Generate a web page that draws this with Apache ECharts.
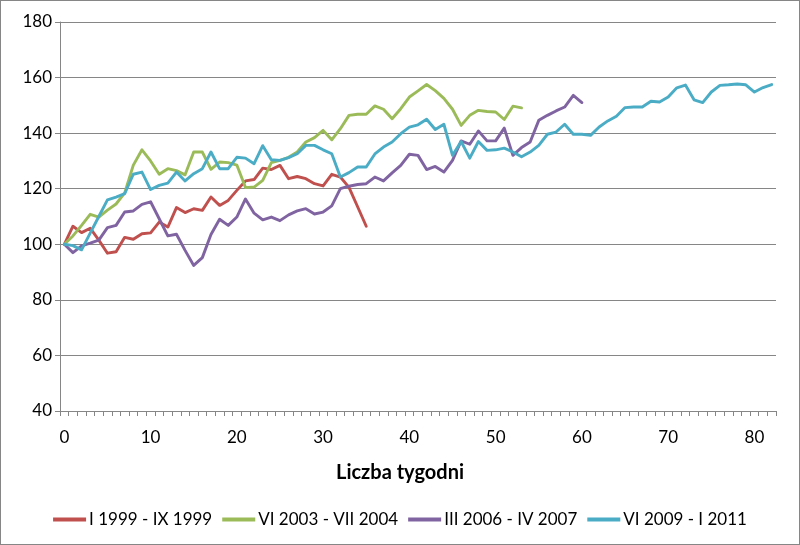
<!DOCTYPE html>
<html>
<head>
<meta charset="utf-8">
<script src="https://cdn.jsdelivr.net/npm/echarts@6/dist/echarts.min.js"></script>
<style>
html,body{margin:0;padding:0;background:#fff;}
#c{width:800px;height:545px;box-sizing:border-box;border:1px solid #868686;}
</style>
</head>
<body>
<div id="c"></div>
<script>
const weeks = Array.from({length: 83}, (_, i) => String(i));
const seriesNames = ['I 1999 - IX 1999', 'VI 2003 - VII 2004', 'III 2006 - IV 2007', 'VI 2009 - I 2011'];
const red = [100, 106.5, 104.2, 105.8, 101.5, 96.8, 97.3, 102.5, 101.8, 103.8, 104.1, 108, 106.2, 113.2, 111.4, 112.8, 112.2, 117, 114, 115.8, 119.4, 122.8, 123.3, 127.4, 126.9, 128.4, 123.6, 124.4, 123.6, 121.8, 121, 125.2, 124.2, 120.5, 113.5, 106.5];
const green = [100, 103, 106.8, 110.8, 109.8, 112.3, 114.5, 118.5, 128.5, 134, 130, 125.2, 127.2, 126.5, 125, 133.2, 133.2, 127, 129.6, 129.4, 128.5, 120.4, 120.6, 123, 129.4, 130.2, 131.3, 133.2, 136.8, 138.4, 141, 137.6, 141.6, 146.4, 146.8, 146.8, 149.8, 148.6, 145.2, 148.8, 153, 155.2, 157.5, 155.3, 152.5, 148.6, 142.8, 146.4, 148.2, 147.8, 147.6, 144.9, 149.7, 149.1];
const purple = [100, 97, 99.4, 100.4, 101.5, 106, 106.8, 111.6, 112, 114.4, 115.3, 109.2, 103, 103.6, 97.8, 92.4, 95.2, 103.5, 109, 106.8, 109.8, 116.3, 111.2, 108.8, 109.8, 108.5, 110.6, 112, 112.8, 110.9, 111.6, 113.8, 120, 120.9, 121.5, 121.8, 124.2, 122.8, 125.7, 128.4, 132.4, 132, 126.9, 128, 126, 130.2, 137.2, 136, 140.8, 137.2, 137.2, 141.8, 132, 134.8, 136.8, 144.6, 146.4, 148, 149.4, 153.6, 151];
const cyan = [100, 99.5, 98, 104, 110, 116, 117, 118.2, 125.2, 126, 119.7, 121.2, 122, 126, 122.8, 125.4, 127.2, 133.2, 127.2, 127.2, 131.3, 131, 129, 135.5, 130.4, 130.2, 131.2, 132.6, 135.6, 135.6, 134, 132.6, 124.2, 125.8, 127.8, 127.8, 132.5, 135, 136.8, 139.8, 142.2, 143, 145, 141.3, 143.2, 132, 137, 131, 137, 133.8, 134, 134.6, 133.2, 131.5, 133.2, 135.6, 139.6, 140.4, 143.2, 139.6, 139.6, 139.2, 142.2, 144.4, 146.1, 149.2, 149.4, 149.4, 151.5, 151.2, 153, 156.3, 157.3, 152, 151, 154.8, 157.2, 157.4, 157.7, 157.4, 154.8, 156.4, 157.5];
const colors = ['#C0504D', '#9BBB59', '#8064A2', '#4BACC6'];
const values = [red, green, purple, cyan];
const axisTitle = 'Liczba tygodni';

const font = 'Lato, "Open Sans", sans-serif';
const chart = echarts.init(document.getElementById('c'), null, {renderer: 'canvas'});
chart.setOption({
  animation: false,
  backgroundColor: '#fff',
  color: colors,
  title: {
    text: axisTitle, left: 'center', top: 462, padding: 0,
    textStyle: {fontFamily: font, fontSize: 20, fontWeight: 'bold', color: '#000'}
  },
  grid: {left: 59, right: 23, top: 21, bottom: 133, containLabel: false},
  legend: {
    top: 505, left: 'center',
    icon: 'rect', itemWidth: 33, itemHeight: 4, itemGap: 10,
    textStyle: {fontFamily: font, fontSize: 17, color: '#000', padding: [0, 0, 0, -2]},
    data: seriesNames
  },
  xAxis: {
    type: 'category', data: weeks, boundaryGap: true,
    axisLine: {lineStyle: {color: '#868686', width: 1}},
    axisTick: {show: true, interval: 0, length: 5, inside: false, lineStyle: {color: '#868686'}},
    axisLabel: {interval: 9, margin: 18, fontFamily: font, fontSize: 17, color: '#000'},
    splitLine: {show: false}
  },
  yAxis: {
    type: 'value', min: 40, max: 180, interval: 20,
    axisLine: {show: true, lineStyle: {color: '#868686', width: 1}},
    axisTick: {show: true, length: 5, lineStyle: {color: '#868686'}},
    axisLabel: {margin: 8, fontFamily: font, fontSize: 17, color: '#000'},
    splitLine: {show: true, lineStyle: {color: '#868686', width: 1}}
  },
  series: values.map((v, i) => ({
    name: seriesNames[i], type: 'line', data: v,
    showSymbol: false, symbol: 'none', smooth: false,
    lineStyle: {width: 2.9, color: colors[i], join: 'round', cap: 'round'},
    itemStyle: {color: colors[i]}
  }))
});
</script>
</body>
</html>
